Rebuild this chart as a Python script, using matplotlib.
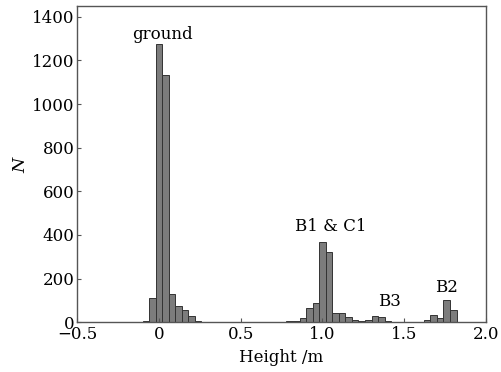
import numpy as np
import matplotlib
matplotlib.use("Agg")
import matplotlib.pyplot as plt

# bin centres (m) and counts, bin width 0.04 m
height_bins = [-0.08, -0.04, 0.00, 0.04, 0.08, 0.12, 0.16, 0.20, 0.24, 0.28,
               0.32, 0.36, 0.40, 0.44, 0.48, 0.52, 0.56, 0.60, 0.64, 0.68,
               0.72, 0.76, 0.80, 0.84, 0.88, 0.92, 0.96, 1.00, 1.04, 1.08,
               1.12, 1.16, 1.20, 1.24, 1.28, 1.32, 1.36, 1.40, 1.44, 1.48,
               1.52, 1.56, 1.60, 1.64, 1.68, 1.72, 1.76, 1.80]
counts = [3, 110, 1275, 1135, 130, 73, 55, 27, 5, 2,
          1, 1, 1, 1, 2, 1, 1, 1, 1, 1,
          2, 2, 3, 5, 20, 67, 90, 368, 320, 43,
          42, 22, 12, 3, 12, 27, 24, 3, 1, 1,
          1, 1, 2, 12, 32, 17, 100, 55]
bin_width = 0.04

labels = ["ground", "B1 & C1", "B3", "B2"]
label_x = [0.02, 1.05, 1.41, 1.76]
label_y = [1320, 440, 95, 160]

plt.rcParams['font.family'] = ['DejaVu Serif']
plt.rcParams['mathtext.fontset'] = 'dejavuserif'

fig = plt.figure(figsize=(5.01, 3.72), dpi=100, facecolor='white')
ax = fig.add_axes([0.154, 0.134, 0.816, 0.850])

ax.bar(height_bins, counts, width=bin_width, color='#7c7c7c',
       edgecolor='#333333', linewidth=0.7)

for t, x, y in zip(labels, label_x, label_y):
    ax.text(x, y, t, ha='center', va='center', fontsize=12, color='black')

ax.set_xlim(-0.5, 2.0)
ax.set_ylim(0, 1450)
ax.set_xticks([-0.5, 0, 0.5, 1.0, 1.5, 2.0])
ax.set_xticklabels(['\u22120.5', '0', '0.5', '1.0', '1.5', '2.0'])
ax.set_yticks(range(0, 1401, 200))
ax.tick_params(direction='in', length=3, labelsize=12, pad=2,
               color='#555555')
ax.tick_params(axis='x', pad=3)
for s in ax.spines.values():
    s.set_color('#555555')
    s.set_linewidth(1.0)

ax.set_xlabel('Height /m', fontsize=12, labelpad=4)
ax.set_ylabel('$N$', fontsize=12.5, labelpad=2)

fig.savefig('out.png', dpi=100)
